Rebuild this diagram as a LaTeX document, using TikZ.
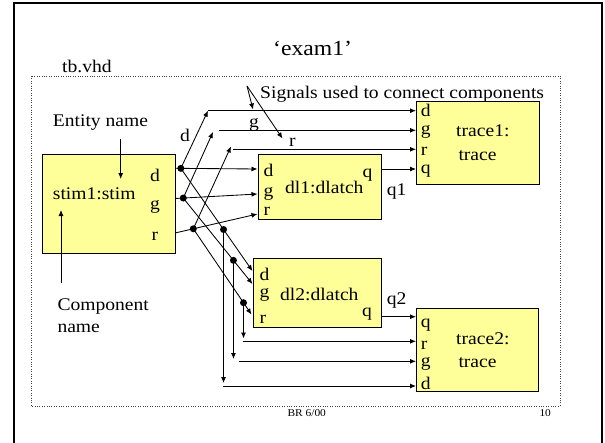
\documentclass[tikz,border=0pt]{standalone}
\usepackage{fontspec}
\setmainfont{Liberation Serif}[FakeStretch=1.1]
\usetikzlibrary{arrows.meta,calc}
\definecolor{boxyellow}{RGB}{255,255,153}
\newcommand\fsmain{\fontsize{17.8}{19}\selectfont}
\newcommand\fstitle{\fontsize{21.5}{23}\selectfont}
\newcommand\fssmall{\fontsize{10.4}{12}\selectfont}
\begin{document}
\begin{tikzpicture}[x=1pt,y=-1pt,
  box/.style={draw=black, fill=boxyellow, line width=1.1pt, inner sep=0pt, anchor=north west},
  lbl/.style={inner sep=0pt, anchor=base west, font=\fsmain},
  clbl/.style={inner sep=0pt, anchor=base, font=\fsmain},
  wire/.style={line width=0.85pt, -{Latex[length=6pt,width=5pt]}},
  jdot/.style={circle, fill=black, inner sep=0pt, minimum size=7pt},
]
\useasboundingbox (0,0) rectangle (605,442);
% frames
\draw[line width=2.5pt] (14,446) -- (14,3) -- (602,3) -- (602,446);
\draw[line width=0.8pt, draw=black!75, dash pattern=on 1pt off 1.4pt] (31,76) rectangle (560,406);

% title and texts
\node[inner sep=0pt, anchor=base, font=\fstitle] (title) at (312.6,55.5) {‘exam1’};
\node[lbl] (tb) at (62,72.7) {tb.vhd};
\node[lbl] (sig) at (260,98) {Signals used to connect components};
\node[lbl] (ent) at (52.7,126.7) {Entity name};
\node[lbl] (comp1) at (57.3,310) {Component};
\node[lbl] (comp2) at (57.3,332.3) {name};
\node[inner sep=0pt, anchor=base west, font=\fssmall] (br) at (287.3,416.7) {BR 6/00};
\node[inner sep=0pt, anchor=base west, font=\fssmall] (pg) at (539.3,416.7) {10};

% boxes
\node[box, minimum width=133.5pt, minimum height=99pt] (stim) at (41.5,154) {};
\node[box, minimum width=123.5pt, minimum height=64.7pt] (dl1) at (257.5,154.3) {};
\node[box, minimum width=128pt, minimum height=68.5pt] (dl2) at (253,258) {};
\node[box, minimum width=122.5pt, minimum height=83.5pt] (tr1) at (416,100.5) {};
\node[box, minimum width=122pt, minimum height=83pt] (tr2) at (416,307.5) {};

% box labels
\node[lbl] (stimname) at (52.7,199) {stim1:stim};
\node[clbl] (stimd) at (155,181.7) {d};
\node[clbl] (stimg) at (155,209) {g};
\node[clbl] (stimr) at (155,240) {r};

\node[lbl] (dl1d) at (263.3,176) {d};
\node[lbl] (dl1g) at (263.3,196) {g};
\node[lbl] (dl1r) at (263.3,215.7) {r};
\node[lbl] (dl1name) at (285,193.5) {dl1:dlatch};
\node[clbl] (dl1q) at (367.5,177.3) {q};
\node[lbl] (q1) at (386.7,195) {q1};

\node[lbl] (dl2d) at (259.3,280) {d};
\node[lbl] (dl2g) at (259.3,297.7) {g};
\node[lbl] (dl2r) at (259.3,323.3) {r};
\node[lbl] (dl2name) at (280,300) {dl2:dlatch};
\node[clbl] (dl2q) at (367,316.7) {q};
\node[lbl] (q2) at (386.7,304.3) {q2};

\node[lbl] (tr1d) at (420.7,116.7) {d};
\node[lbl] (tr1g) at (420.7,134) {g};
\node[lbl] (tr1r) at (420.7,155.7) {r};
\node[lbl] (tr1q) at (420.7,173.3) {q};
\node[lbl] (tr1n) at (456,136.7) {trace1:};
\node[lbl] (tr1t) at (458.3,160.7) {trace};

\node[lbl] (tr2q) at (420.7,327.3) {q};
\node[lbl] (tr2r) at (420.7,349) {r};
\node[lbl] (tr2g) at (420.7,366.7) {g};
\node[lbl] (tr2d) at (420.7,389) {d};
\node[lbl] (tr2n) at (456,344) {trace2:};
\node[lbl] (tr2t) at (458.3,367.3) {trace};

% wire labels
\node[lbl] (wd) at (180,141.7) {d};
\node[lbl] (wg) at (249,127.3) {g};
\node[lbl] (wr) at (289,146.7) {r};

% pin coordinates
\coordinate (sd) at (175,168.3);
\coordinate (sg) at (175,198.5);
\coordinate (sr) at (175,233);
\coordinate (i1d) at (257.5,169);
\coordinate (i1g) at (257.5,194);
\coordinate (i1r) at (257.5,214);
\coordinate (i2d) at (252.5,271);
\coordinate (i2g) at (252.5,284);
\coordinate (i2r) at (251.5,314.5);
\coordinate (o1) at (381,169);
\coordinate (o2) at (381,316.7);
\coordinate (t1d) at (416,110.7);
\coordinate (t1g) at (416,130.3);
\coordinate (t1r) at (416,149.3);
\coordinate (t1q) at (416,169);
\coordinate (t2q) at (416,316.7);
\coordinate (t2r) at (416,341.3);
\coordinate (t2g) at (416,361.3);
\coordinate (t2d) at (416,386);

% junctions
\coordinate (Dc) at ($(sd)!0.0705!(i1d)$);
\coordinate (Gc) at ($(sg)!0.1!(i1g)$);
\coordinate (Rc) at ($(sr)!0.222!(i1r)$);
\coordinate (T1) at ($(Dc)!0.596!(i2d)$);
\coordinate (T2) at ($(Gc)!0.725!(i2g)$);
\coordinate (T3) at ($(Rc)!0.8625!(i2r)$);

% stim to dl1
\draw[wire] (sd) -- (i1d);
\draw[wire] (sg) -- (i1g);
\draw[wire] (sr) -- (i1r);
% up-going
\coordinate (dUp) at (208,110.7);
\coordinate (gUp) at (213,132);
\coordinate (gL) at (219,130.3);
\coordinate (rUp) at (231,146.5);
\coordinate (rL) at (233,149.3);
\draw[wire] (Dc) -- (dUp);
\draw[wire] (dUp) -- (t1d);
\draw[wire] (Gc) -- (gUp);
\draw[wire] (gL) -- (t1g);
\draw[wire] (Rc) -- (rUp);
\draw[wire] (rL) -- (t1r);
% down-going to dl2
\draw[wire] (Dc) -- (i2d);
\draw[wire] (Gc) -- (i2g);
\draw[wire] (Rc) -- (i2r);
% outputs
\draw[wire] (o1) -- (t1q);
\draw[wire] (o2) -- (t2q);
% taps to trace2
\coordinate (v1) at (T1 |- 0,383);
\coordinate (v2) at (T2 |- 0,359);
\coordinate (v3) at (T3 |- 0,338.5);
\coordinate (h1) at (223,386);
\coordinate (h2) at (238.5,361.3);
\coordinate (h3) at (243,341.3);
\draw[wire] (T1) -- (v1);
\draw[wire] (T2) -- (v2);
\draw[wire] (T3) -- (v3);
\draw[wire] (h1) -- (t2d);
\draw[wire] (h2) -- (t2g);
\draw[wire] (h3) -- (t2r);

% dots
\node[jdot] (jd) at (Dc) {};
\node[jdot] (jg) at (Gc) {};
\node[jdot] (jr) at (Rc) {};
\node[jdot] (j1) at (T1) {};
\node[jdot] (j2) at (T2) {};
\node[jdot] (j3) at (T3) {};

% annotation arrows
\coordinate (sigA) at (247,86);
\coordinate (sigG) at (253,109.5);
\coordinate (sigR) at (282.5,138.5);
\draw[wire] (sigA) -- (sigG);
\draw[wire] (sigA) -- (sigR);
\coordinate (entA) at (120.7,139.3);
\coordinate (entB) at (120.7,179);
\draw[wire] (entA) -- (entB);
\coordinate (compA) at (61,282.7);
\coordinate (compB) at (61,210);
\draw[wire] (compA) -- (compB);
\end{tikzpicture}
\end{document}
